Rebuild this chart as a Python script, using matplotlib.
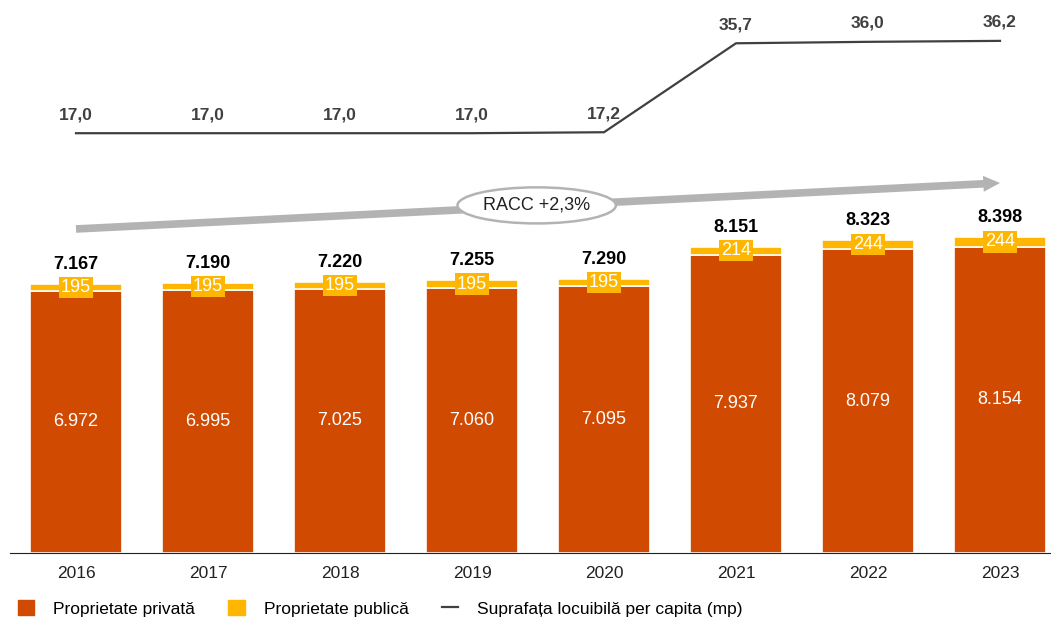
import matplotlib.pyplot as plt
import numpy as np
from matplotlib.patches import Patch, Ellipse
from matplotlib.lines import Line2D

plt.rcParams["font.family"] = ["Liberation Sans", "DejaVu Sans"]

years = ["2016", "2017", "2018", "2019", "2020", "2021", "2022", "2023"]
privat = [6972, 6995, 7025, 7060, 7095, 7937, 8079, 8154]
public = [195, 195, 195, 195, 195, 214, 244, 244]
total = [7167, 7190, 7220, 7255, 7290, 8151, 8323, 8398]
per_capita = [17.0, 17.0, 17.0, 17.0, 17.2, 35.7, 36.0, 36.2]
racc_label = "RACC +2,3%"

ORANGE = "#D04A02"
YELLOW = "#FFB600"
DARK = "#404040"


def fmt_thousands(v):
    return f"{v:,}".replace(",", ".")


W, H = 1051, 617
fig = plt.figure(figsize=(W / 100, H / 100), dpi=100)
ax = fig.add_axes([10 / W, 64 / H, 1 - 10 / W, 553 / H])

x = np.arange(len(years))
width = 0.70

ax.bar(x, privat, width=width, color=ORANGE, edgecolor="white", linewidth=1.2)
ax.bar(x, public, bottom=privat, width=width, color=YELLOW, edgecolor="white", linewidth=1.2)

ax.set_xlim(-0.5, (W - 10) / 132 - 0.5)
ax.set_ylim(0, 14715)

for i in range(len(years)):
    ax.text(x[i], privat[i] / 2, fmt_thousands(privat[i]), ha="center", va="center",
            color="white", fontsize=13)
    ax.text(x[i], privat[i] + public[i] / 2, str(public[i]), ha="center", va="center",
            color="white", fontsize=13,
            bbox=dict(boxstyle="square,pad=0.12", fc=YELLOW, ec="none"))
    ax.annotate(fmt_thousands(total[i]), (x[i], total[i]), xytext=(0, 8),
                textcoords="offset points", ha="center", va="bottom",
                fontsize=13, fontweight="bold", color="black")

# RACC arrow
ax.annotate("", xy=(7, 9846), xytext=(0, 8622),
            arrowprops=dict(arrowstyle="simple,head_length=1.2,head_width=1.15,tail_width=0.55",
                            fc="#B3B3B3", ec="none", shrinkA=0, shrinkB=0))
ell = Ellipse((3.49, 9250), width=1.2, height=960, fc="white", ec="#B3B3B3", lw=1.8, zorder=4)
ax.add_patch(ell)
ax.text(3.49, 9250, racc_label, ha="center", va="center", fontsize=13, color="#222222", zorder=5)

ax.set_xticks(x)
ax.set_xticklabels(years, fontsize=12.5, color="#222222")
ax.tick_params(axis="x", length=0, pad=9)
ax.set_yticks([])
for s in ["top", "right", "left"]:
    ax.spines[s].set_visible(False)
ax.spines["bottom"].set_color("#222222")

# per capita line on second axis
ax2 = ax.twinx()
ax2.plot(x, per_capita, color=DARK, linewidth=1.6)
ax2.set_ylim(-70.3, 44.7)
ax2.set_yticks([])
for s in ["top", "right", "left", "bottom"]:
    ax2.spines[s].set_visible(False)
for i in range(len(years)):
    ax2.annotate(f"{per_capita[i]:.1f}".replace(".", ","), (x[i], per_capita[i]),
                 xytext=(0, 8), textcoords="offset points", ha="center", va="bottom",
                 fontsize=12.5, fontweight="bold", color=DARK)

handles = [
    Patch(color=ORANGE, label="Proprietate privată"),
    Patch(color=YELLOW, label="Proprietate publică"),
    Line2D([0], [0], color=DARK, lw=1.6, label="Suprafața locuibilă per capita (mp)"),
]
fig.legend(handles=handles, loc="lower left", bbox_to_anchor=(0.002, -0.025), ncol=3,
           frameon=False, fontsize=12.5, handlelength=0.95, handleheight=0.95,
           columnspacing=1.9, handletextpad=1.1)

fig.savefig("out.png", dpi=100)
